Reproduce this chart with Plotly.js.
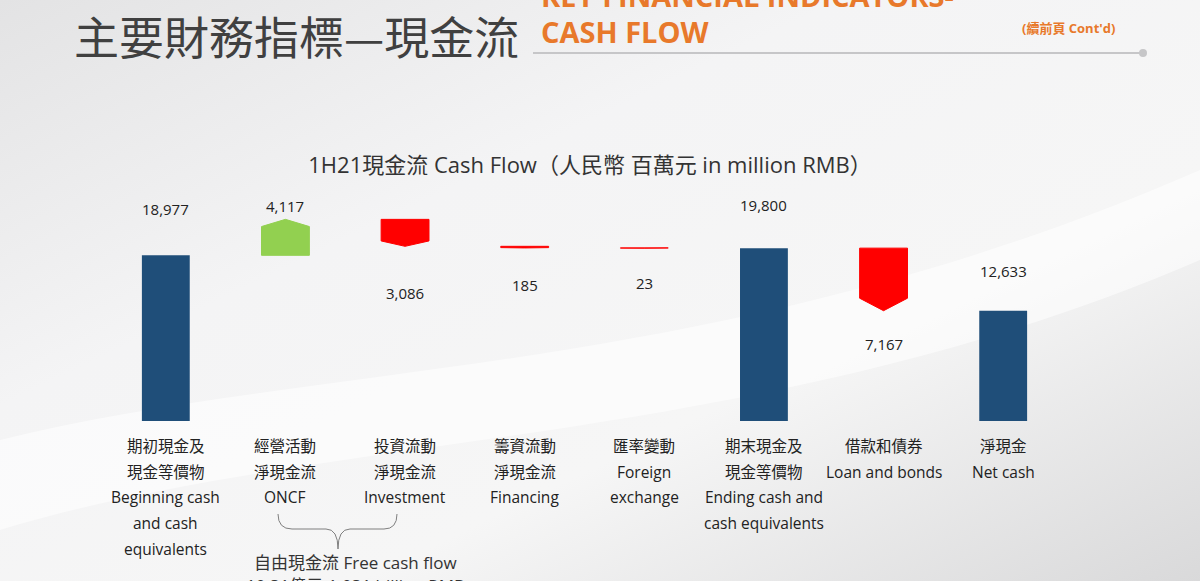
<!DOCTYPE html>
<html>
<head>
<meta charset="utf-8">
<script src="https://cdn.plot.ly/plotly-3.0.1.min.js"></script>
<style>
  html, body { margin: 0; padding: 0; background: #f1f1f2; }
  #chart { width: 1200px; height: 581px; }
</style>
</head>
<body>
<div id="chart"></div>
<script>
// 1H21 cash flow bridge, in million RMB

const stepValues = [18977, 4117, -3086, -185, -23, 19800, -7167, 12633];
const stepIsTotal = [true, false, false, false, false, true, false, true];
const stepLabels = ['18,977', '4,117', '3,086', '185', '23', '19,800', '7,167', '12,633'];
const tickLines = [
    ['期初現金及', '現金等價物', 'Beginning cash', 'and cash', 'equivalents'],
    ['經營活動', '淨現金流', 'ONCF'],
    ['投資流動', '淨現金流', 'Investment'],
    ['籌資流動', '淨現金流', 'Financing'],
    ['匯率變動', 'Foreign', 'exchange'],
    ['期末現金及', '現金等價物', 'Ending cash and', 'cash equivalents'],
    ['借款和債券', 'Loan and bonds'],
    ['淨現金', 'Net cash']
];
const freeCashText = ['自由現金流 Free cash flow', '10.31億元 1.031 billion RMB'];

// pixel offsets of the value labels (up is positive)
const labelShift = [46, 13, -47, -37, -35, 43, -33, 40];

const W = 1200, H = 581;
const M = {l: 106, r: 137, t: 150, b: 160};
const pw = W - M.l - M.r, ph = H - M.t - M.b;
const px = (x) => (x - M.l) / pw;
const py = (y) => (H - M.b - y) / ph;

const FONT = "'Open Sans', 'Noto Sans CJK TC', sans-serif";
const BLUE = '#1F4E79', GREEN = '#92D050', RED = '#FF0000', ORANGE = '#E8792B';
const halfW = 0.2;

let level = 0;
const totX = [], totY = [];
const traces = [];
const anchors = [];

stepValues.forEach((v, i) => {
    if (stepIsTotal[i]) {
        totX.push(i);
        totY.push(v);
        level = v;
        anchors.push(v);
    } else {
        const start = level, end = level + v;
        const sign = v > 0 ? 1 : -1;
        const shoulder = end - sign * 0.2 * Math.abs(v);
        const col = v > 0 ? GREEN : RED;
        traces.push({
            type: 'scatter',
            mode: 'lines',
            x: [i - halfW, i - halfW, i, i + halfW, i + halfW, i - halfW],
            y: [start, shoulder, end, shoulder, start, start],
            fill: 'toself',
            fillcolor: col,
            line: {color: col, width: 1},
            hoverinfo: 'skip',
            showlegend: false
        });
        level = end;
        anchors.push(end);
    }
});

traces.unshift({
    type: 'bar',
    x: totX,
    y: totY,
    width: 0.4,
    marker: {color: BLUE},
    hoverinfo: 'skip',
    showlegend: false
});

const annotations = [];

// value labels
stepLabels.forEach((t, i) => {
    annotations.push({
        text: t, x: i, y: anchors[i], xref: 'x', yref: 'y',
        yshift: labelShift[i], xanchor: 'center', yanchor: 'middle', showarrow: false,
        font: {family: FONT, size: 15, color: '#222'}
    });
});

// category labels, one annotation per line
tickLines.forEach((lines, i) => {
    lines.forEach((s, k) => {
        annotations.push({
            text: s, x: i, y: py(446 + k * 25.7), xref: 'x', yref: 'paper',
            xanchor: 'center', yanchor: 'middle', showarrow: false,
            font: {family: FONT, size: 15.5, color: '#222'}
        });
    });
});

freeCashText.forEach((s, k) => {
    annotations.push({
        text: s, x: px(355), y: py(562 + k * 23), xref: 'paper', yref: 'paper',
        xanchor: 'center', yanchor: 'middle', showarrow: false,
        font: {family: FONT, size: 17, color: '#333'}
    });
});

// slide header
annotations.push(
    {text: '主要財務指標—現金流', x: px(72), y: py(35), xref: 'paper', yref: 'paper',
     xanchor: 'left', yanchor: 'middle', showarrow: false,
     font: {family: "'Noto Sans CJK TC', sans-serif", size: 45, color: '#404040'}},
    {text: 'KEY FINANCIAL INDICATORS-', x: px(539), y: py(-5), xref: 'paper', yref: 'paper',
     xanchor: 'left', yanchor: 'middle', showarrow: false,
     font: {family: FONT, size: 29, color: ORANGE, weight: 700}},
    {text: 'CASH FLOW', x: px(539), y: py(32), xref: 'paper', yref: 'paper',
     xanchor: 'left', yanchor: 'middle', showarrow: false,
     font: {family: FONT, size: 29, color: ORANGE, weight: 700}},
    {text: '(續前頁 Cont\'d)', x: px(1068), y: py(28), xref: 'paper', yref: 'paper',
     xanchor: 'center', yanchor: 'middle', showarrow: false,
     font: {family: FONT, size: 13, color: ORANGE, weight: 700}}
);

const bgSvg =
    "<svg xmlns='http://www.w3.org/2000/svg' width='1200' height='581'>" +
    "<defs><linearGradient id='g' x1='0' y1='0' x2='1' y2='1'>" +
    "<stop offset='0' stop-color='#e3e3e4'/>" +
    "<stop offset='0.35' stop-color='#f4f4f5'/>" +
    "<stop offset='0.65' stop-color='#f6f6f6'/>" +
    "<stop offset='1' stop-color='#d9d9da'/>" +
    "</linearGradient></defs>" +
    "<rect width='1200' height='581' fill='url(#g)'/>" +
    "<path d='M0,440 C320,360 720,380 1200,170 L1200,260 C760,450 330,430 0,530 Z' fill='#ffffff' opacity='0.55'/>" +
    "</svg>";

const layout = {
    width: W,
    height: H,
    margin: M,
    paper_bgcolor: '#f1f1f2',
    plot_bgcolor: 'rgba(0,0,0,0)',
    showlegend: false,
    title: {
        text: '1H21現金流 Cash Flow（人民幣 百萬元 in million RMB）',
        x: px(590), xref: 'paper', xanchor: 'center',
        y: 1 - 165 / H, yanchor: 'middle',
        font: {family: FONT, size: 22, color: '#333'}
    },
    xaxis: {range: [-0.5, 7.5], visible: false, fixedrange: true},
    yaxis: {range: [0, 31040], visible: false, fixedrange: true},
    annotations: annotations,
    images: [{
        source: 'data:image/svg+xml;charset=utf-8,' + encodeURIComponent(bgSvg),
        xref: 'paper', yref: 'paper',
        x: px(0), y: py(0), sizex: W / pw, sizey: H / ph,
        xanchor: 'left', yanchor: 'top', sizing: 'stretch', layer: 'below'
    }],
    shapes: [
        {type: 'line', xref: 'paper', yref: 'paper',
         x0: px(533), x1: px(1141), y0: py(53), y1: py(53),
         line: {color: '#c6c6c8', width: 2}},
        {type: 'circle', xref: 'paper', yref: 'paper',
         x0: px(1139), x1: px(1147), y0: py(49), y1: py(57),
         fillcolor: '#c6c6c8', line: {width: 0}},
        // brace under ONCF and Investment
        {type: 'path', xref: 'paper', yref: 'paper',
         path: 'M' + px(278) + ',' + py(514) +
               ' Q' + px(278) + ',' + py(529) + ' ' + px(292) + ',' + py(529) +
               ' L' + px(326) + ',' + py(529) +
               ' Q' + px(338) + ',' + py(529) + ' ' + px(338) + ',' + py(549) +
               ' Q' + px(338) + ',' + py(529) + ' ' + px(350) + ',' + py(529) +
               ' L' + px(384) + ',' + py(529) +
               ' Q' + px(397) + ',' + py(529) + ' ' + px(397) + ',' + py(514),
         line: {color: '#7f7f7f', width: 1}}
    ]
};

Plotly.newPlot('chart', traces, layout, {displayModeBar: false, staticPlot: true});
</script>
</body>
</html>
